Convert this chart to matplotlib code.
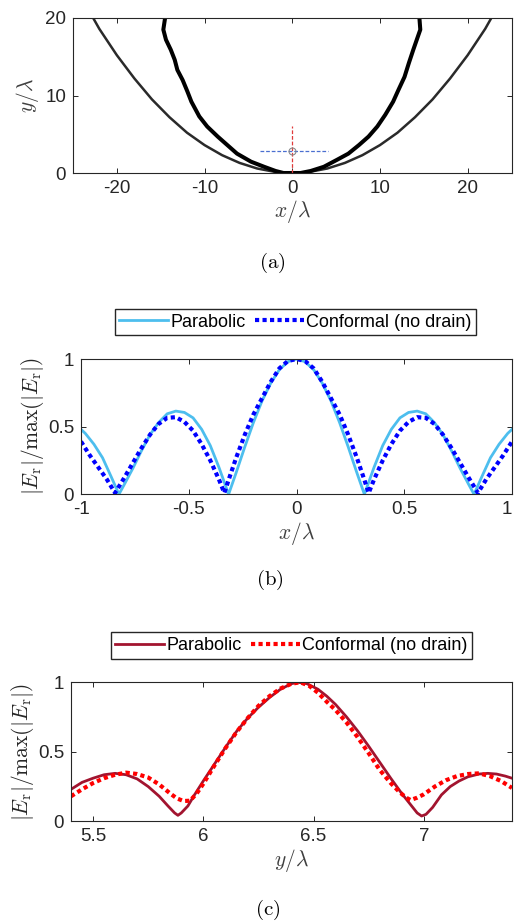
import matplotlib
matplotlib.use("Agg")
import matplotlib.pyplot as plt

plt.rcParams['font.family'] = ['Liberation Sans', 'DejaVu Sans']
plt.rcParams['mathtext.fontset'] = 'cm'
plt.rcParams['axes.unicode_minus'] = False

# ---- panel (a): geometry ----
x_par = [-22.7, -22, -20, -18, -16, -14, -12, -10, -8, -6, -4, -2, 0,
         2, 4, 6, 8, 10, 12, 14, 16, 18, 20, 22, 22.7]
y_par = [20, 18.6, 15.2, 12.2, 9.5, 7.2, 5.2, 3.6, 2.3, 1.3, 0.58, 0.15, 0,
         0.15, 0.58, 1.3, 2.3, 3.6, 5.2, 7.2, 9.5, 12.2, 15.2, 18.6, 20]

x_conf = [-14.5, -14.7, -14.4, -13.85, -13.4, -13.1, -12.5, -11.95, -11.5, -10.6,
          -9.7, -8.5, -7.4, -6.3, -4.7, -3.2, -1.9, -1.0, 0.95, 2.1, 3.6, 5.1,
          6.4, 7.6, 8.7, 9.7, 10.6, 11.5, 12.1, 12.8, 13.3, 13.8, 14.2, 14.6, 14.5]
y_conf = [20.0, 18.5, 17.2, 15.9, 14.6, 13.3, 12.0, 10.5, 9.2, 7.3,
          6.0, 4.7, 3.6, 2.5, 1.46, 0.8, 0.26, 0.0, 0.0, 0.26, 0.8, 1.7,
          2.5, 3.6, 4.7, 6.0, 7.5, 9.2, 10.7, 12.4, 14.2, 15.9, 17.2, 18.5, 20.0]

cut_x = [0, 0]          # vertical cut (red)
cut_x_y = [0, 6.05]
cut_y = [-3.7, 4.1]     # horizontal cut (blue)
cut_y_y = [2.85, 2.85]
focus = (0, 2.85)

# ---- panel (b): field along x ----
xb_par = [-1.0, -0.98, -0.94, -0.90, -0.86, -0.824, -0.80, -0.76, -0.72, -0.68,
          -0.64, -0.60, -0.56, -0.52, -0.48, -0.44, -0.40, -0.36, -0.315,
          -0.28, -0.24, -0.20, -0.16, -0.12, -0.08, -0.04, 0.0,
          0.04, 0.08, 0.12, 0.16, 0.20, 0.24, 0.28, 0.315, 0.36, 0.40, 0.44,
          0.48, 0.52, 0.56, 0.60, 0.64, 0.68, 0.72, 0.76, 0.80, 0.824, 0.86,
          0.90, 0.94, 0.98, 1.0]
eb_par = [0.48, 0.45, 0.37, 0.27, 0.13, 0.0, 0.07, 0.19, 0.32, 0.44,
          0.53, 0.595, 0.615, 0.605, 0.565, 0.48, 0.36, 0.2, 0.0,
          0.16, 0.35, 0.53, 0.69, 0.82, 0.92, 0.98, 1.0,
          0.98, 0.92, 0.82, 0.69, 0.53, 0.35, 0.16, 0.0, 0.2, 0.36, 0.48,
          0.565, 0.605, 0.615, 0.595, 0.53, 0.44, 0.32, 0.19, 0.07, 0.0, 0.13,
          0.27, 0.37, 0.45, 0.48]

xb_conf = [-1.0, -0.96, -0.92, -0.88, -0.842, -0.80, -0.76, -0.72, -0.68, -0.64,
           -0.60, -0.56, -0.52, -0.48, -0.44, -0.40, -0.36, -0.335, -0.31,
           -0.28, -0.24, -0.20, -0.16, -0.12, -0.08, -0.04, 0.0,
           0.04, 0.08, 0.12, 0.16, 0.20, 0.24, 0.28, 0.31, 0.335, 0.36, 0.40,
           0.44, 0.48, 0.52, 0.56, 0.60, 0.64, 0.68, 0.72, 0.76, 0.80, 0.842,
           0.88, 0.92, 0.96, 1.0]
eb_conf = [0.39, 0.29, 0.2, 0.11, 0.01, 0.12, 0.23, 0.34, 0.44, 0.52,
           0.565, 0.57, 0.535, 0.47, 0.37, 0.25, 0.11, 0.01, 0.13,
           0.27, 0.44, 0.59, 0.71, 0.83, 0.93, 0.985, 1.0,
           0.985, 0.93, 0.83, 0.71, 0.59, 0.44, 0.27, 0.13, 0.01, 0.11, 0.25,
           0.37, 0.47, 0.535, 0.57, 0.565, 0.52, 0.44, 0.34, 0.23, 0.12, 0.01,
           0.11, 0.2, 0.29, 0.39]

# ---- panel (c): field along y ----
yc_par = [5.40, 5.45, 5.50, 5.55, 5.60, 5.65, 5.70, 5.75, 5.80, 5.84, 5.87, 5.885,
          5.90, 5.93, 5.96, 6.00, 6.05, 6.10, 6.15, 6.20, 6.25, 6.30, 6.35, 6.40,
          6.43, 6.47, 6.52, 6.56, 6.60, 6.65, 6.70, 6.75, 6.80, 6.85, 6.90, 6.94,
          6.97, 6.99, 7.01, 7.04, 7.08, 7.12, 7.16, 7.20, 7.25, 7.29, 7.33, 7.37, 7.40]
ec_par = [0.23, 0.28, 0.31, 0.335, 0.345, 0.335, 0.305, 0.25, 0.18, 0.11, 0.06, 0.043,
          0.06, 0.11, 0.19, 0.29, 0.41, 0.53, 0.645, 0.74, 0.82, 0.89, 0.95, 0.99,
          1.0, 0.99, 0.95, 0.90, 0.84, 0.75, 0.65, 0.54, 0.425, 0.31, 0.2, 0.12,
          0.06, 0.038, 0.05, 0.1, 0.19, 0.25, 0.29, 0.32, 0.34, 0.345, 0.34, 0.325, 0.31]

yc_conf = [5.40, 5.45, 5.50, 5.55, 5.60, 5.65, 5.70, 5.75, 5.80, 5.85, 5.88, 5.91,
           5.94, 5.97, 6.00, 6.05, 6.10, 6.15, 6.20, 6.25, 6.30, 6.35, 6.40, 6.44,
           6.48, 6.52, 6.56, 6.60, 6.65, 6.70, 6.75, 6.80, 6.85, 6.89, 6.92, 6.94,
           6.97, 7.00, 7.05, 7.10, 7.15, 7.20, 7.25, 7.30, 7.35, 7.40]
ec_conf = [0.18, 0.23, 0.275, 0.31, 0.335, 0.35, 0.34, 0.315, 0.265, 0.2, 0.165, 0.146,
           0.148, 0.2, 0.27, 0.40, 0.525, 0.64, 0.74, 0.83, 0.90, 0.955, 0.99, 1.0,
           0.975, 0.925, 0.86, 0.80, 0.71, 0.605, 0.49, 0.37, 0.275, 0.21, 0.17, 0.153,
           0.17, 0.194, 0.25, 0.295, 0.325, 0.34, 0.345, 0.325, 0.29, 0.24]

ticks_a_x = [-20, -10, 0, 10, 20]
ticks_a_y = [0, 10, 20]
ticks_b_x = [-1, -0.5, 0, 0.5, 1]
labels_b_x = ['-1', '-0.5', '0', '0.5', '1']
ticks_c_x = [5.5, 6, 6.5, 7]
labels_c_x = ['5.5', '6', '6.5', '7']
ticks_e = [0, 0.5, 1]
labels_e = ['0', '0.5', '1']
legend_names = ['Parabolic', 'Conformal (no drain)']

W, H = 514, 923
fig = plt.figure(figsize=(W / 100, H / 100), dpi=100)

ink = '#262626'
lab = '#404040'
tick_fs = 13.5
lab_fs = 15.5


def axes_px(l, t, r, b):
    return fig.add_axes([l / W, 1 - b / H, (r - l) / W, (b - t) / H])


def style(ax):
    for s in ax.spines.values():
        s.set_color(ink)
        s.set_linewidth(0.8)
    ax.tick_params(direction='in', top=True, right=True, length=3.5,
                   width=0.7, color=ink, labelcolor=ink, labelsize=tick_fs, pad=5)


def legend(ax, cx, cy):
    ax.legend(loc='center', bbox_to_anchor=(cx / W, 1 - cy / H), bbox_transform=fig.transFigure,
              ncol=2, fancybox=False, edgecolor=ink, framealpha=1, fontsize=13,
              handlelength=2.7, handletextpad=0.15, columnspacing=0.5, borderpad=0.25)


dots = (0, (1, 0.8))
ylab = r'$|E_\mathrm{r}|/\max(|E_\mathrm{r}|)$'

# (a)
ax = axes_px(73, 18, 511.5, 173)
ax.plot(x_par, y_par, color='#2a2a2a', lw=1.8)
ax.plot(x_conf, y_conf, color='black', lw=2.9, solid_joinstyle='round')
ax.plot(cut_x, cut_x_y, color='#e03a3a', lw=0.9, dashes=(3, 1.5))
ax.plot(cut_y, cut_y_y, color='#4a6fd0', lw=0.9, dashes=(3, 1.5))
ax.plot(*focus, 'o', mfc='none', mec='#8a8a8a', ms=5, mew=0.8)
ax.set_xlim(-25, 25)
ax.set_ylim(0, 20)
ax.set_xticks(ticks_a_x)
ax.set_yticks(ticks_a_y)
style(ax)
ax.set_xlabel(r'$x/\lambda$', fontsize=lab_fs, color=lab, labelpad=1)
ax.set_ylabel(r'$y/\lambda$', fontsize=lab_fs, color=lab, labelpad=3)
fig.text(272 / W, 1 - 263 / H, r'$\mathrm{(a)}$', fontsize=15, ha='center', va='center')

# (b)
ax = axes_px(81, 359, 512, 494.3)
ax.plot(xb_par, eb_par, color='#4dbeee', lw=2.0, label=legend_names[0])
ax.plot(xb_conf, eb_conf, color='#0000ff', lw=3.0, linestyle=dots, label=legend_names[1])
ax.set_xlim(-1, 1)
ax.set_ylim(0, 1)
ax.set_xticks(ticks_b_x, labels_b_x)
ax.set_yticks(ticks_e, labels_e)
style(ax)
ax.get_xticklabels()[-1].set_horizontalalignment('right')
ax.set_xlabel(r'$x/\lambda$', fontsize=lab_fs, color=lab, labelpad=1)
ax.set_ylabel(ylab, fontsize=lab_fs, color=ink, labelpad=1)
legend(ax, 295.5, 322)
fig.text(270 / W, 1 - 580 / H, r'$\mathrm{(b)}$', fontsize=15, ha='center', va='center')

# (c)
ax = axes_px(71, 682.3, 512, 821.3)
ax.plot(yc_par, ec_par, color='#a2142f', lw=2.0, label=legend_names[0])
ax.plot(yc_conf, ec_conf, color='#ff0000', lw=3.0, linestyle=dots, label=legend_names[1])
ax.set_xlim(5.4, 7.4)
ax.set_ylim(0, 1)
ax.set_xticks(ticks_c_x, labels_c_x)
ax.set_yticks(ticks_e, labels_e)
style(ax)
ax.set_xlabel(r'$y/\lambda$', fontsize=lab_fs, color=lab, labelpad=1)
ax.set_ylabel(ylab, fontsize=lab_fs, color=ink, labelpad=1)
legend(ax, 291.5, 645.5)
fig.text(268 / W, 1 - 910 / H, r'$\mathrm{(c)}$', fontsize=15, ha='center', va='center')

fig.savefig('out.png', dpi=100)
